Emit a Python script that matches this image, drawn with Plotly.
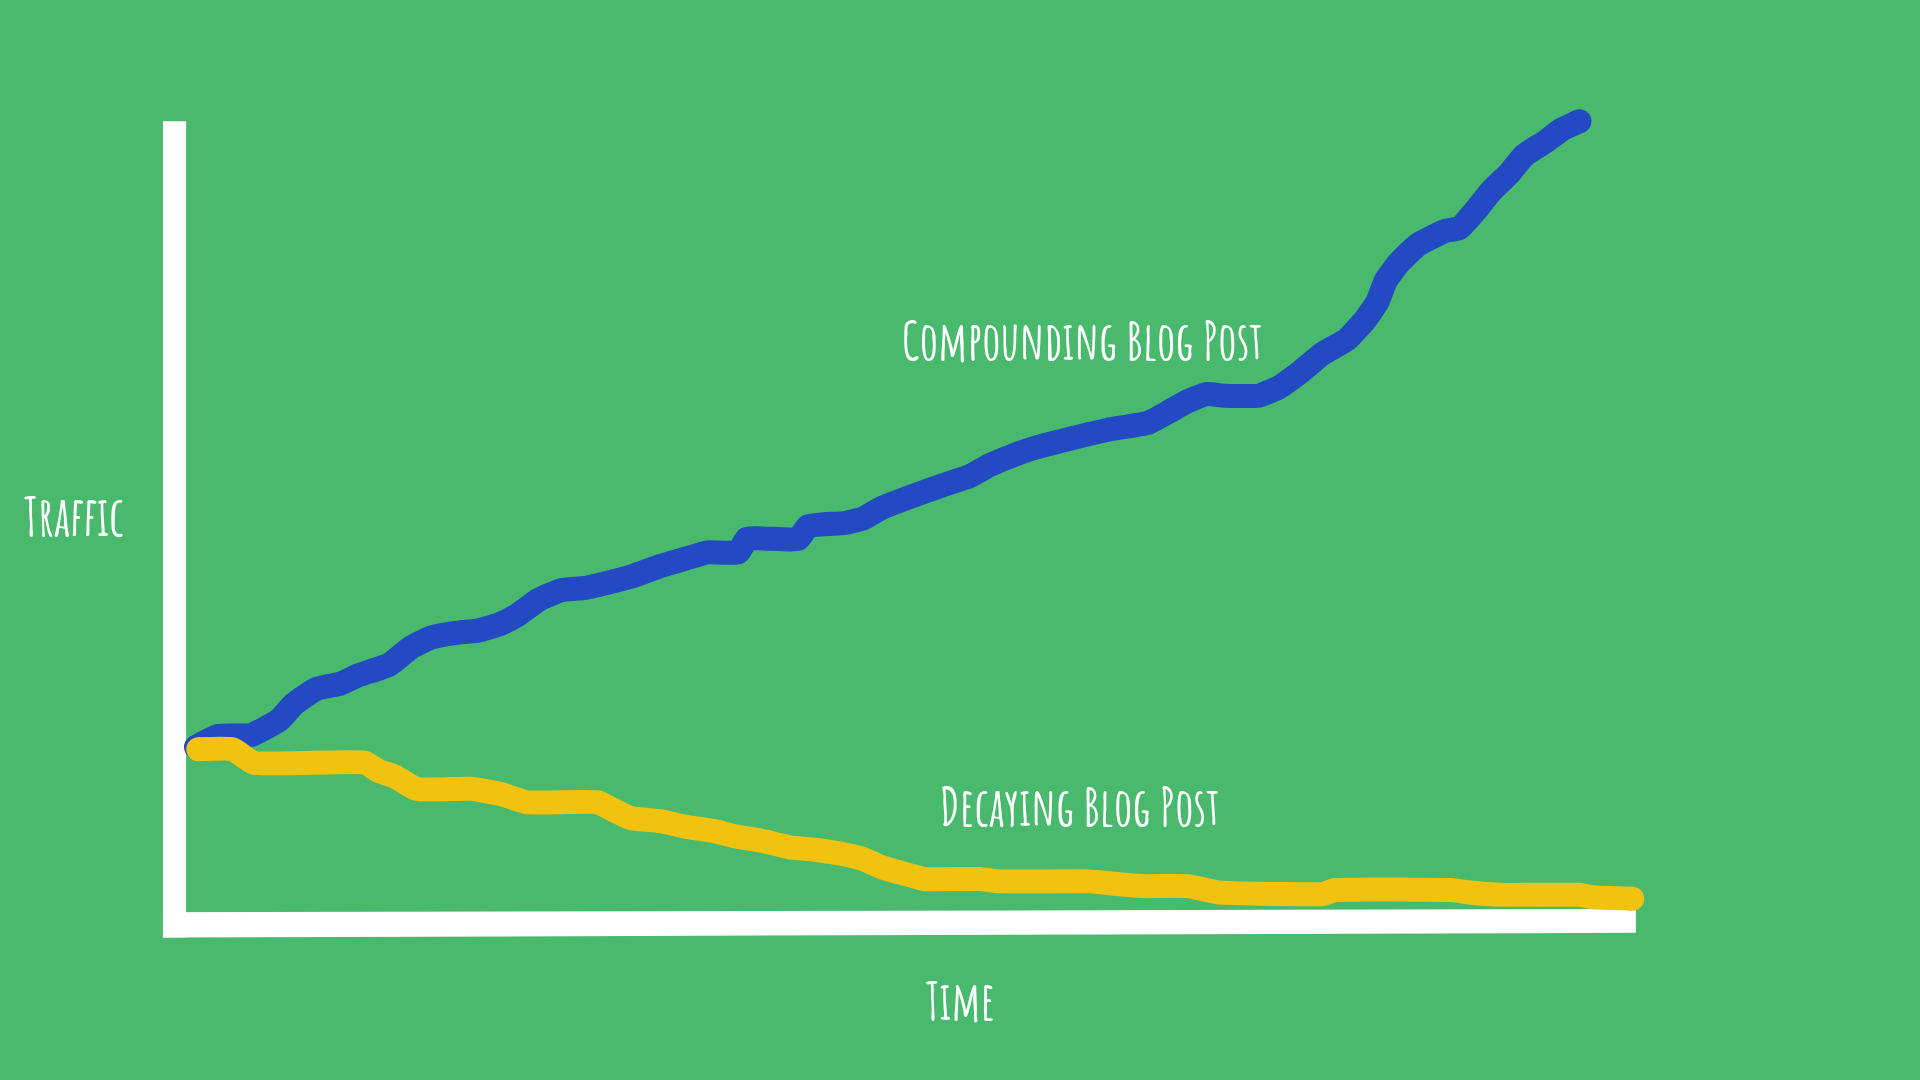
import plotly.graph_objects as go

# ---------------- data ----------------
time_compound = [0.68, 2.2, 4.48, 6.42, 7.43, 8.95, 10.64, 11.82, 14.02, 15.46, 16.89, 18.58, 20.1, 21.62,
                 22.8, 24.32, 25.84, 27.53, 29.39, 30.66, 32.77, 34.46, 35.98, 38.09, 38.68, 42.23, 42.9,
                 45.44, 46.71, 47.97, 50.08, 51.77, 53.04, 54.05, 55.41, 56.84, 58.53, 61.49, 63.6, 66.39,
                 67.82, 69.09, 70.35, 71.62, 73.99, 75.42, 76.86, 78.38, 80.07, 81.33, 82.18, 82.77, 83.61,
                 84.97, 86.82, 87.84, 88.94, 90.03, 91.22, 92.31, 93.75, 94.85, 96.11]
traffic_compound = [20.9, 22.3, 22.4, 24.3, 26.3, 28.2, 28.9, 29.9, 31.3, 33.4, 34.7, 35.3, 35.6, 36.4,
                    37.5, 39.5, 40.7, 41.0, 41.8, 42.4, 43.8, 44.7, 45.5, 45.5, 47.2, 47.2, 48.8,
                    49.2, 49.8, 51.1, 52.6, 53.7, 54.5, 55.1, 56.5, 57.6, 58.7, 60.1, 61.0, 61.9,
                    63.3, 64.6, 65.5, 65.3, 65.3, 66.4, 68.3, 70.6, 72.4, 74.9, 77.2, 79.9, 82.0,
                    84.4, 86.1, 86.5, 88.7, 91.2, 93.3, 95.7, 97.4, 98.9, 100.0]

time_decay = [0.84, 3.21, 4.65, 12.33, 13.34, 14.36, 15.88, 19.68, 21.79, 23.48, 28.38, 29.39, 30.66,
              32.77, 34.46, 36.57, 37.84, 39.53, 41.64, 43.33, 45.44, 46.71, 47.97, 49.66, 50.93, 54.73,
              56.0, 62.33, 64.02, 66.13, 69.09, 71.2, 75.42, 78.38, 79.22, 87.25, 88.51, 90.63, 96.11,
              96.96, 99.75]
traffic_decay = [20.6, 20.6, 18.9, 18.9, 17.8, 17.2, 15.6, 15.6, 14.9, 13.9, 13.9, 13.0, 11.9,
                 11.5, 10.8, 10.2, 9.6, 9.1, 8.2, 7.9, 7.3, 6.7, 5.7, 4.8, 4.2, 4.2,
                 3.9, 3.9, 3.6, 3.3, 3.3, 2.5, 2.3, 2.3, 2.8, 2.8, 2.5, 2.2, 2.2,
                 1.9, 1.7]

x_label = "Time"
y_label = "Traffic"
series_labels = ["Compounding Blog Post", "Decaying Blog Post"]

BG = "#48B96D"
BLUE = "#2349C3"
YELLOW = "#F2C210"
WHITE = "#FFFFFF"

# axis extents (data units)
X_RANGE = [-12.84, 119.60]
Y_RANGE = [-21.21, 115.32]
TIME_END = 100
TRAFFIC_TOP = 100
BAR_W = 1.6
BAR_H = 2.6

FONT = "Amatic SC"
FONT_SIZE = 52
LINE_W = 24

fig = go.Figure()

for xs, ys, col in [(time_compound, traffic_compound, BLUE), (time_decay, traffic_decay, YELLOW)]:
    fig.add_trace(go.Scatter(
        x=xs, y=ys, mode="lines",
        line=dict(color=col, width=LINE_W, shape="spline", smoothing=0.4),
        hoverinfo="skip", showlegend=False))
    # rounded ends of the strokes
    fig.add_trace(go.Scatter(
        x=[xs[0], xs[-1]], y=[ys[0], ys[-1]], mode="markers",
        marker=dict(color=col, size=LINE_W, opacity=1, line=dict(width=0)),
        hoverinfo="skip", showlegend=False))

# hand-drawn axes
fig.add_shape(type="rect", x0=-BAR_W, x1=0, y0=-BAR_H - 0.6, y1=TRAFFIC_TOP,
              fillcolor=WHITE, line=dict(width=0), layer="below")
fig.add_shape(type="path",
              path="M %f,%f L %f,%f L %f,%f L %f,%f Z" % (-BAR_W, 0, TIME_END, 0.4, TIME_END, -BAR_H,
                                                          -BAR_W, -BAR_H - 0.6),
              fillcolor=WHITE, line=dict(width=0), layer="below")

label_font = dict(family=FONT, size=FONT_SIZE, color=WHITE, weight="bold")
fig.add_annotation(x=61.86, y=72.3, text=series_labels[0], showarrow=False, font=label_font)
fig.add_annotation(x=61.65, y=13.4, text=series_labels[1], showarrow=False, font=label_font)
fig.add_annotation(x=53.4, y=-11.1, text=x_label, showarrow=False, font=label_font)
fig.add_annotation(x=-7.77, y=50.2, text=y_label, showarrow=False, font=dict(label_font, size=54))

fig.update_layout(
    width=1920, height=1080,
    margin=dict(l=0, r=0, t=0, b=0),
    paper_bgcolor=BG, plot_bgcolor=BG,
    xaxis=dict(range=X_RANGE, visible=False, fixedrange=True),
    yaxis=dict(range=Y_RANGE, visible=False, fixedrange=True),
    showlegend=False,
)

fig.write_html("out.html", config={"displayModeBar": False},
               post_script="document.body.style.margin='0';")
